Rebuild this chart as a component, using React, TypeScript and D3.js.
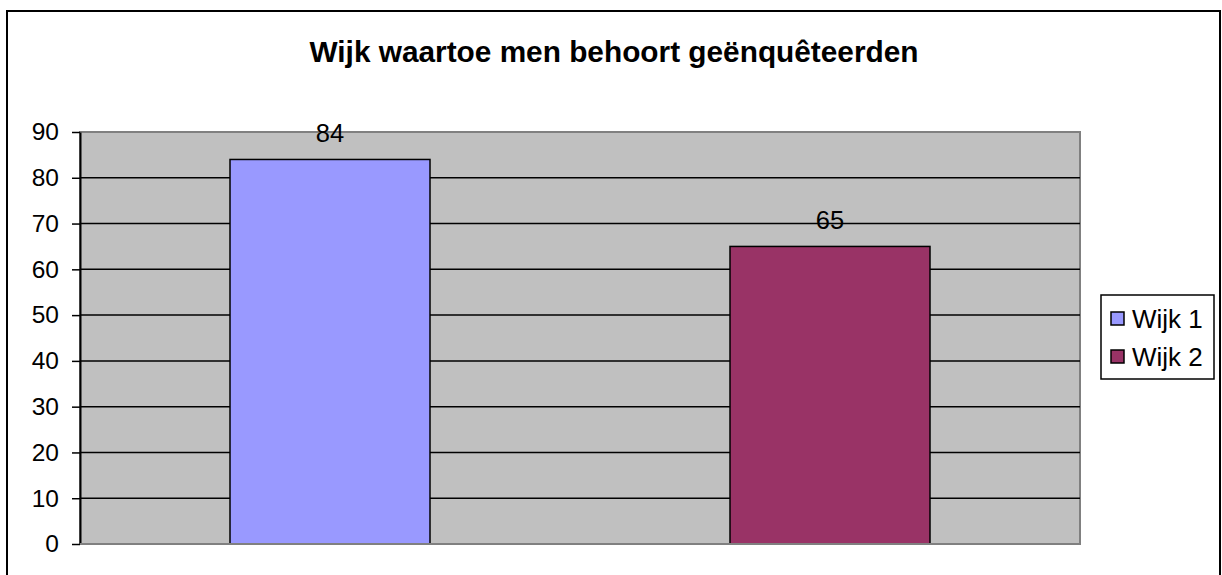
import React, { useRef, useEffect } from 'react';
import * as d3 from 'd3';

const categories = ['Wijk 1', 'Wijk 2'];
const values = [84, 65];
const colors = ['#9999FF', '#993366'];
const yTicks = [0, 10, 20, 30, 40, 50, 60, 70, 80, 90];
const title = 'Wijk waartoe men behoort geënquêteerden';

const App = () => {
  const chartRef = useRef<SVGSVGElement>(null);

  useEffect(() => {
    const chartDOM = chartRef.current;
    if (!chartDOM) return;
    const svg = d3.select(chartDOM);
    svg.selectAll('*').remove();

    const font = '"Liberation Sans", Arial, sans-serif';
    const plot = { left: 80, right: 1080, top: 132, bottom: 544 };

    // outer chart frame (bottom edge runs off the image)
    svg
      .append('rect')
      .attr('x', 7)
      .attr('y', 11)
      .attr('width', 1213)
      .attr('height', 600)
      .attr('fill', '#fff')
      .attr('stroke', '#000')
      .attr('stroke-width', 2);

    svg
      .append('text')
      .attr('x', 614)
      .attr('y', 62)
      .attr('text-anchor', 'middle')
      .attr('font-family', font)
      .attr('font-weight', 'bold')
      .attr('font-size', 29.8)
      .text(title);

    var x = d3
      .scaleBand()
      .domain(categories)
      .range([plot.left, plot.right])
      .paddingInner(0.6)
      .paddingOuter(0.3);

    var y = d3.scaleLinear().domain([0, 90]).range([plot.bottom, plot.top]);

    svg
      .append('rect')
      .attr('x', plot.left)
      .attr('y', plot.top)
      .attr('width', plot.right - plot.left)
      .attr('height', plot.bottom - plot.top)
      .attr('fill', '#C0C0C0')
      .attr('stroke', '#808080')
      .attr('stroke-width', 2);

    // gridlines
    svg
      .append('g')
      .selectAll('line')
      .data(yTicks.filter(d => d > 0 && d < 90))
      .enter()
      .append('line')
      .attr('x1', plot.left)
      .attr('x2', plot.right)
      .attr('y1', d => y(d))
      .attr('y2', d => y(d))
      .attr('stroke', '#000')
      .attr('stroke-width', 1.5);

    svg
      .append('g')
      .selectAll('rect')
      .data(values)
      .enter()
      .append('rect')
      .attr('x', (d, i) => x(categories[i])!)
      .attr('y', d => y(d))
      .attr('width', x.bandwidth())
      .attr('height', d => y(0) - y(d))
      .attr('fill', (d, i) => colors[i])
      .attr('stroke', '#000')
      .attr('stroke-width', 1.5);

    svg
      .append('g')
      .selectAll('text')
      .data(values)
      .enter()
      .append('text')
      .attr('x', (d, i) => x(categories[i])! + x.bandwidth() / 2)
      .attr('y', d => y(d) - 17)
      .attr('text-anchor', 'middle')
      .attr('font-family', font)
      .attr('font-size', 25.5)
      .text(d => d);

    // y axis
    const yAxis = svg
      .append('g')
      .attr('transform', 'translate(' + plot.left + ',0)')
      .call(
        d3
          .axisLeft(y)
          .tickValues(yTicks)
          .tickSize(8)
          .tickPadding(13)
          .tickSizeOuter(0)
      );
    yAxis.select('.domain').attr('stroke', '#000').attr('stroke-width', 2);
    yAxis.selectAll('.tick line').attr('stroke', '#000').attr('stroke-width', 1.5);
    yAxis
      .selectAll('.tick text')
      .attr('font-family', font)
      .attr('font-size', 24.5)
      .attr('fill', '#000');

    // bottom axis line
    svg
      .append('line')
      .attr('x1', plot.left)
      .attr('x2', plot.right)
      .attr('y1', y(0))
      .attr('y2', y(0))
      .attr('stroke', '#808080')
      .attr('stroke-width', 2);

    // legend
    const legend = svg.append('g').attr('transform', 'translate(1101,295)');
    legend
      .append('rect')
      .attr('width', 113)
      .attr('height', 84)
      .attr('fill', '#fff')
      .attr('stroke', '#000')
      .attr('stroke-width', 1.5);
    const item = legend
      .selectAll('g.item')
      .data(categories)
      .enter()
      .append('g')
      .attr('class', 'item')
      .attr('transform', (d, i) => 'translate(0,' + (19 + i * 38) + ')');
    item
      .append('rect')
      .attr('x', 10)
      .attr('y', -2)
      .attr('width', 13)
      .attr('height', 13)
      .attr('fill', (d, i) => colors[i])
      .attr('stroke', '#000')
      .attr('stroke-width', 1.5);
    item
      .append('text')
      .attr('x', 31)
      .attr('y', 14)
      .attr('font-family', font)
      .attr('font-size', 26)
      .text(d => d);
  }, []);

  return (
    <svg
      ref={chartRef}
      width="1222"
      height="575"
      style={{ position: 'absolute', left: 0, top: 0 }}
    />
  );
};

export default App;
